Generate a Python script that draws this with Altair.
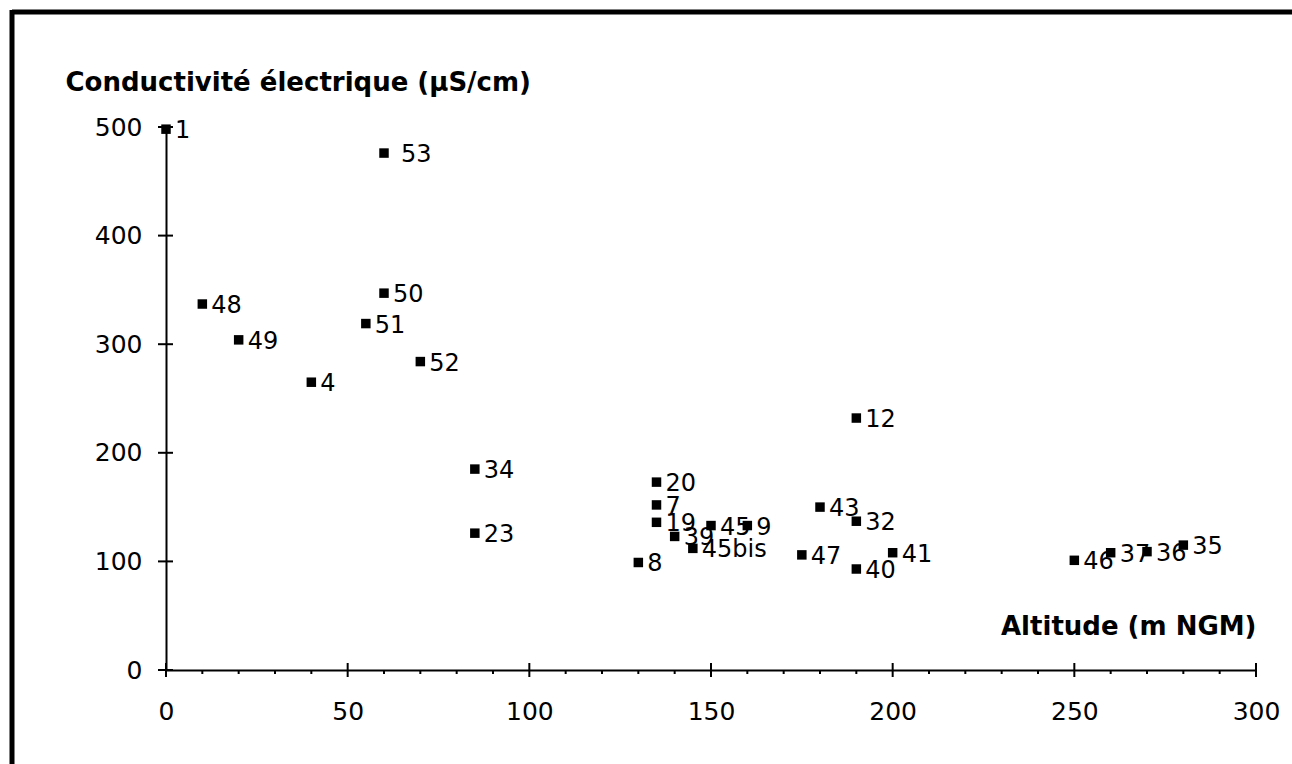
import altair as alt
import pandas as pd

# ---- data ----
labels = ["1", "53", "48", "49", "4", "51", "50", "52", "34", "23", "8", "20", "7", "19",
          "39", "45bis", "45", "9", "47", "43", "12", "32", "40", "41", "46", "37", "36", "35"]
altitude = [0, 60, 10, 20, 40, 55, 60, 70, 85, 85, 130, 135, 135, 135,
            140, 145, 150, 160, 175, 180, 190, 190, 190, 200, 250, 260, 270, 280]
conductivity = [498, 476, 337, 304, 265, 319, 347, 284, 185, 126, 99, 173, 152, 136,
                123, 112, 133, 133, 106, 150, 232, 137, 93, 108, 101, 108, 109, 115]

x_major = [0, 50, 100, 150, 200, 250, 300]
x_minor = [10, 20, 30, 40, 60, 70, 80, 90, 110, 120, 130, 140, 160, 170, 180, 190,
           210, 220, 230, 240, 260, 270, 280, 290]
y_major = [0, 100, 200, 300, 400, 500]

x_title = "Altitude (m NGM)"
y_title = "Conductivité électrique (µS/cm)"

W, H = 1090, 543
FONT = "DejaVu Sans"

df = pd.DataFrame({"alt": altitude, "cond": conductivity, "label": labels})

xs = alt.Scale(domain=[0, 300], nice=False, zero=False)
ys = alt.Scale(domain=[0, 500], nice=False, zero=False)

x_axis = alt.Axis(values=x_major, ticks=False, grid=False, format="d",
                  labelFlush=False, labelOverlap=False,
                  domainColor="black", domainWidth=2,
                  labelFont=FONT, labelFontSize=25, labelColor="black", labelPadding=29,
                  title=x_title, titleFont=FONT, titleFontSize=26, titleFontWeight="bold",
                  titleColor="black", titleX=W, titleY=-44, titleAlign="right",
                  titleBaseline="middle")
y_axis = alt.Axis(values=y_major, ticks=False, grid=False, format="d",
                  labelFlush=False, labelOverlap=False,
                  domainColor="black", domainWidth=2,
                  labelFont=FONT, labelFontSize=25, labelColor="black", labelPadding=24,
                  title=y_title, titleFont=FONT, titleFontSize=26, titleFontWeight="bold",
                  titleColor="black", titleAngle=0, titleX=-101, titleY=-45,
                  titleAlign="left", titleBaseline="middle")

X = alt.X("alt:Q", scale=xs, axis=x_axis)
Y = alt.Y("cond:Q", scale=ys, axis=y_axis)

points = alt.Chart(df).mark_square(size=90, color="black", opacity=1).encode(x=X, y=Y)
texts = alt.Chart(df).mark_text(align="left", baseline="middle", dx=9, dy=2,
                                font=FONT, fontSize=24, color="black").encode(
    x=X, y=Y, text="label:N").transform_filter(alt.datum.label != "53")
# label 53 is printed with a gap after its marker
text53 = alt.Chart(df).mark_text(align="left", baseline="middle", dx=17, dy=2,
                                 font=FONT, fontSize=24, color="black").encode(
    x=X, y=Y, text="label:N").transform_filter(alt.datum.label == "53")

xmaj = alt.Chart(pd.DataFrame({"alt": x_major})).mark_rule(color="black", strokeWidth=2).encode(
    x=X, y=alt.value(H - 7), y2=alt.value(H + 7))
xmin = alt.Chart(pd.DataFrame({"alt": x_minor})).mark_rule(color="black", strokeWidth=2).encode(
    x=X, y=alt.value(H), y2=alt.value(H + 4))
ymaj = alt.Chart(pd.DataFrame({"cond": y_major})).mark_rule(color="black", strokeWidth=2).encode(
    y=Y, x=alt.value(-8), x2=alt.value(7))

frame_top = alt.Chart(pd.DataFrame({"a": [0]})).mark_rule(color="black", strokeWidth=5).encode(
    x=alt.value(-154), x2=alt.value(1292 - 166), y=alt.value(-115))
frame_left = alt.Chart(pd.DataFrame({"a": [0]})).mark_rule(color="black", strokeWidth=5).encode(
    x=alt.value(-154), y=alt.value(-117), y2=alt.value(764 - 127))

chart = alt.layer(texts, text53, points, xmin, xmaj, ymaj, frame_top, frame_left).properties(
    width=W, height=H,
    autosize=alt.AutoSizeParams(type="none"),
    padding={"left": 166, "top": 127, "right": 36, "bottom": 94},
    background="white",
).configure_view(stroke=None)

chart.save("out.html", embed_options={"renderer": "svg", "actions": False})
